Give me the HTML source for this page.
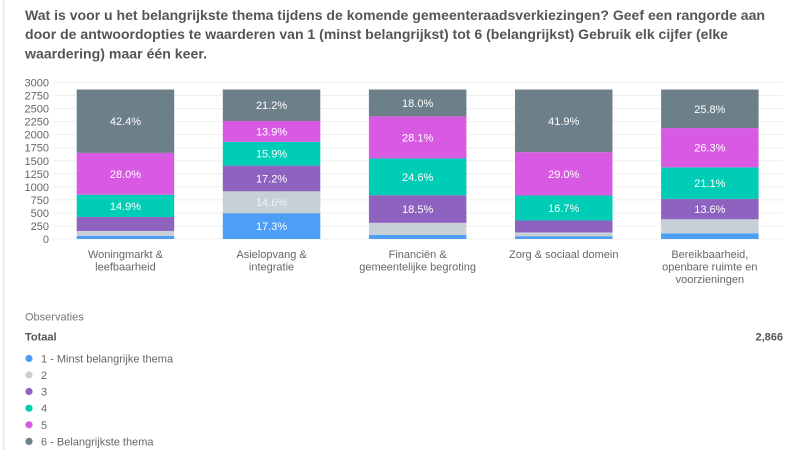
<!DOCTYPE html>
<html><head><meta charset="utf-8"><style>
html,body{margin:0;padding:0;background:#fff;width:800px;height:450px;overflow:hidden}
svg{display:block;font-family:"Liberation Sans",Arial,sans-serif}
</style></head><body>
<svg width="800" height="450" viewBox="0 0 800 450" xmlns="http://www.w3.org/2000/svg">
<rect width="800" height="450" fill="#fff"/>
<line x1="3.5" y1="0" x2="3.5" y2="450" stroke="#e6e6e6" stroke-width="1.5"/>
<g font-weight="bold" font-size="14" fill="#555">
<text x="25" y="20" textLength="740" lengthAdjust="spacingAndGlyphs">Wat is voor u het belangrijkste thema tijdens de komende gemeenteraadsverkiezingen? Geef een rangorde aan</text>
<text x="25" y="39" textLength="703" lengthAdjust="spacingAndGlyphs">door de antwoordopties te waarderen van 1 (minst belangrijkst) tot 6 (belangrijkst) Gebruik elk cijfer (elke</text>
<text x="25" y="58.5" textLength="182" lengthAdjust="spacingAndGlyphs">waardering) maar één keer.</text>
</g>
<g stroke="#efefef" stroke-width="1">
<line x1="53" x2="783" y1="239" y2="239"/><line x1="53" x2="783" y1="225.96" y2="225.96"/><line x1="53" x2="783" y1="212.92" y2="212.92"/><line x1="53" x2="783" y1="199.88" y2="199.88"/><line x1="53" x2="783" y1="186.83" y2="186.83"/><line x1="53" x2="783" y1="173.79" y2="173.79"/><line x1="53" x2="783" y1="160.75" y2="160.75"/><line x1="53" x2="783" y1="147.71" y2="147.71"/><line x1="53" x2="783" y1="134.67" y2="134.67"/><line x1="53" x2="783" y1="121.63" y2="121.63"/><line x1="53" x2="783" y1="108.58" y2="108.58"/><line x1="53" x2="783" y1="95.54" y2="95.54"/><line x1="53" x2="783" y1="82.5" y2="82.5"/>
</g>
<g font-size="11" fill="#666" text-anchor="end">
<text x="49" y="243">0</text><text x="49" y="230">250</text><text x="49" y="216.9">500</text><text x="49" y="203.9">750</text><text x="49" y="190.8">1000</text><text x="49" y="177.8">1250</text><text x="49" y="164.8">1500</text><text x="49" y="151.7">1750</text><text x="49" y="138.7">2000</text><text x="49" y="125.6">2250</text><text x="49" y="112.6">2500</text><text x="49" y="99.5">2750</text><text x="49" y="86.5">3000</text>
</g>
<!-- Bar 1 -->
<g>
<rect x="76.7" y="235.86" width="97.5" height="3.14" fill="#4c9ef6"/>
<rect x="76.7" y="230.93" width="97.5" height="4.93" fill="#c7d0d7"/>
<rect x="76.7" y="217.02" width="97.5" height="13.91" fill="#8e63bf"/>
<rect x="76.7" y="194.75" width="97.5" height="22.27" fill="#00cdb5"/>
<rect x="76.7" y="152.89" width="97.5" height="41.86" fill="#d95ae2"/>
<rect x="76.7" y="89.5" width="97.5" height="63.39" fill="#6d7f89"/>
</g>
<!-- Bar 2 -->
<g>
<rect x="222.8" y="213.14" width="97.5" height="25.86" fill="#4c9ef6"/>
<rect x="222.8" y="191.31" width="97.5" height="21.83" fill="#c7d0d7"/>
<rect x="222.8" y="165.6" width="97.5" height="25.71" fill="#8e63bf"/>
<rect x="222.8" y="141.82" width="97.5" height="23.78" fill="#00cdb5"/>
<rect x="222.8" y="121.04" width="97.5" height="20.78" fill="#d95ae2"/>
<rect x="222.8" y="89.5" width="97.5" height="31.54" fill="#6d7f89"/>
</g>
<!-- Bar 3 -->
<g>
<rect x="368.9" y="234.96" width="97.5" height="4.04" fill="#4c9ef6"/>
<rect x="368.9" y="222.85" width="97.5" height="12.11" fill="#c7d0d7"/>
<rect x="368.9" y="195.2" width="97.5" height="27.65" fill="#8e63bf"/>
<rect x="368.9" y="158.42" width="97.5" height="36.78" fill="#00cdb5"/>
<rect x="368.9" y="116.41" width="97.5" height="42.01" fill="#d95ae2"/>
<rect x="368.9" y="89.5" width="97.5" height="26.91" fill="#6d7f89"/>
</g>
<!-- Bar 4 -->
<g>
<rect x="515" y="236.16" width="97.5" height="2.84" fill="#4c9ef6"/>
<rect x="515" y="232.42" width="97.5" height="3.74" fill="#c7d0d7"/>
<rect x="515" y="220.46" width="97.5" height="11.96" fill="#8e63bf"/>
<rect x="515" y="195.5" width="97.5" height="24.96" fill="#00cdb5"/>
<rect x="515" y="152.14" width="97.5" height="43.36" fill="#d95ae2"/>
<rect x="515" y="89.5" width="97.5" height="62.64" fill="#6d7f89"/>
</g>
<!-- Bar 5 -->
<g>
<rect x="661.1" y="233.32" width="97.5" height="5.68" fill="#4c9ef6"/>
<rect x="661.1" y="219.27" width="97.5" height="14.05" fill="#c7d0d7"/>
<rect x="661.1" y="198.93" width="97.5" height="20.34" fill="#8e63bf"/>
<rect x="661.1" y="167.39" width="97.5" height="31.54" fill="#00cdb5"/>
<rect x="661.1" y="128.07" width="97.5" height="39.32" fill="#d95ae2"/>
<rect x="661.1" y="89.5" width="97.5" height="38.57" fill="#6d7f89"/>
</g>
<g font-size="11" fill="#fff" text-anchor="middle">
<text x="125.45" y="125.2">42.4%</text>
<text x="125.45" y="177.8">28.0%</text>
<text x="125.45" y="209.9">14.9%</text>

<text x="271.55" y="109.2">21.2%</text>
<text x="271.55" y="135.4">13.9%</text>
<text x="271.55" y="157.7">15.9%</text>
<text x="271.55" y="182.5">17.2%</text>
<text x="271.55" y="206.2" fill="#eef1f3">14.6%</text>
<text x="271.55" y="230.1">17.3%</text>

<text x="417.65" y="107">18.0%</text>
<text x="417.65" y="141.4">28.1%</text>
<text x="417.65" y="180.8">24.6%</text>
<text x="417.65" y="213">18.5%</text>

<text x="563.75" y="124.8">41.9%</text>
<text x="563.75" y="177.8">29.0%</text>
<text x="563.75" y="212">16.7%</text>

<text x="709.85" y="112.8">25.8%</text>
<text x="709.85" y="151.7">26.3%</text>
<text x="709.85" y="187.2">21.1%</text>
<text x="709.85" y="213.1">13.6%</text>
</g>
<g font-size="11" fill="#666" text-anchor="middle">
<text x="125.45" y="258">Woningmarkt &amp;</text>
<text x="125.45" y="270.5">leefbaarheid</text>
<text x="271.55" y="258">Asielopvang &amp;</text>
<text x="271.55" y="270.5">integratie</text>
<text x="417.65" y="258">Financiën &amp;</text>
<text x="417.65" y="270.5">gemeentelijke begroting</text>
<text x="563.75" y="258">Zorg &amp; sociaal domein</text>
<text x="709.85" y="258">Bereikbaarheid,</text>
<text x="709.85" y="270.5">openbare ruimte en</text>
<text x="709.85" y="283">voorzieningen</text>
</g>
<text x="25" y="320.5" font-size="11" fill="#777">Observaties</text>
<text x="25" y="340.5" font-size="11" font-weight="bold" fill="#555">Totaal</text>
<text x="783" y="340.5" font-size="11" font-weight="bold" fill="#555" text-anchor="end">2,866</text>
<g>
<circle cx="29" cy="358.5" r="3.6" fill="#4c9ef6"/>
<circle cx="29" cy="375" r="3.6" fill="#c7d0d7"/>
<circle cx="29" cy="391.5" r="3.6" fill="#8e63bf"/>
<circle cx="29" cy="408.2" r="3.6" fill="#00cdb5"/>
<circle cx="29" cy="424.8" r="3.6" fill="#d95ae2"/>
<circle cx="29" cy="441.4" r="3.6" fill="#6d7f89"/>
</g>
<g font-size="11" fill="#666">
<text x="41" y="362.5">1 - Minst belangrijke thema</text>
<text x="41" y="379">2</text>
<text x="41" y="395.5">3</text>
<text x="41" y="412.2">4</text>
<text x="41" y="428.8">5</text>
<text x="41" y="445.4">6 - Belangrijkste thema</text>
</g>
</svg>
</body></html>
